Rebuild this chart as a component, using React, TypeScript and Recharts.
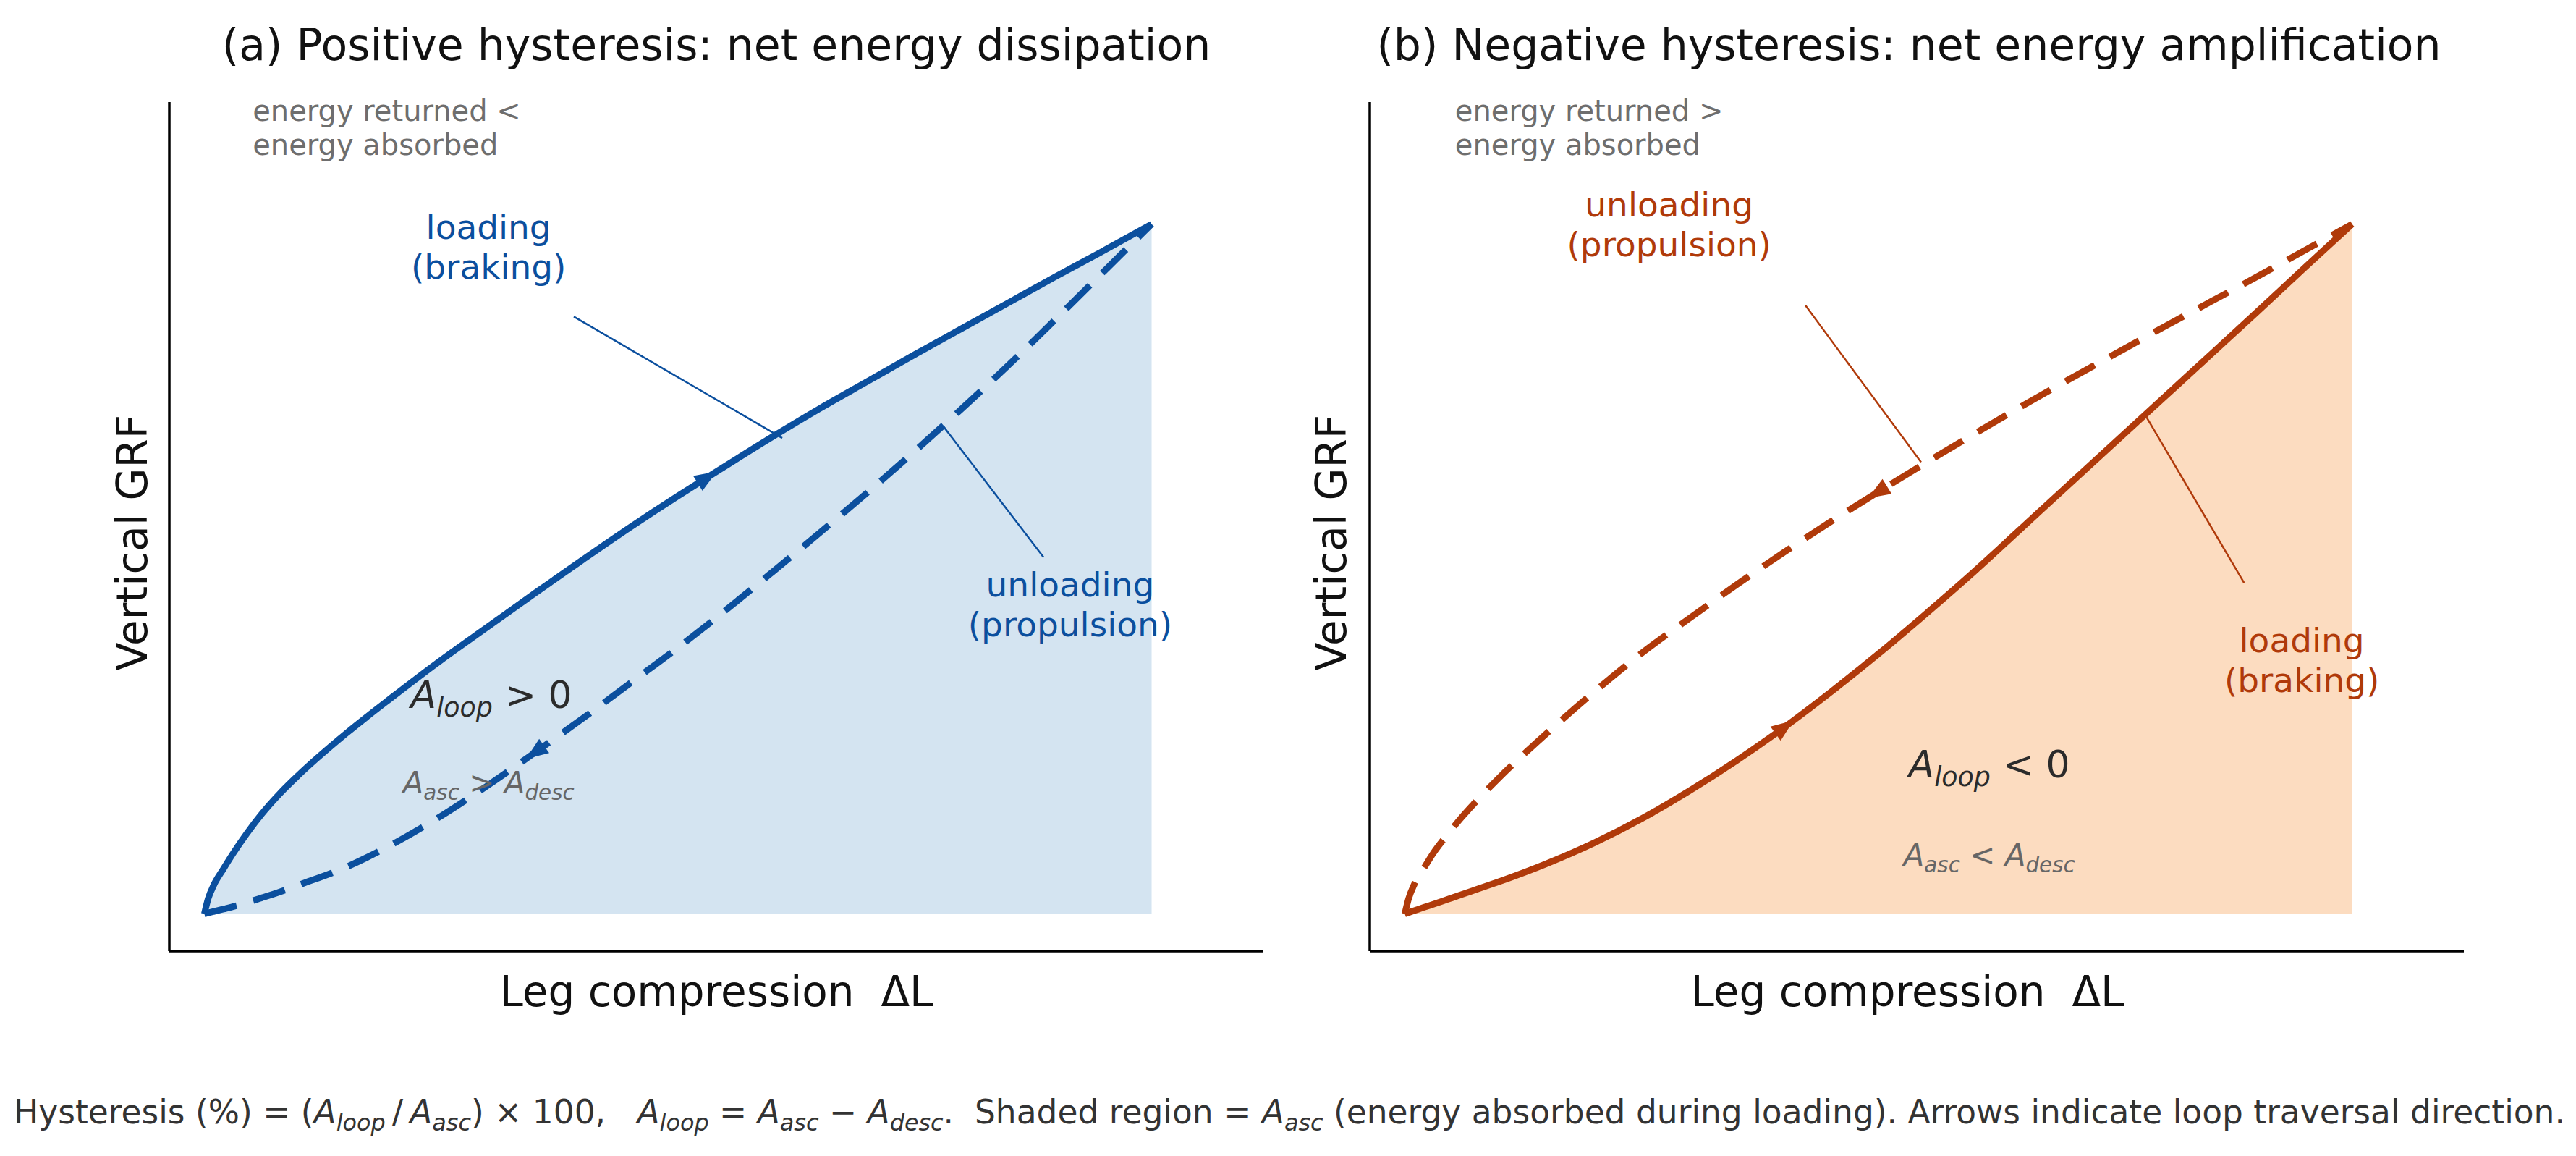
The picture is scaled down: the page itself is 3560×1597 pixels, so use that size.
import React from 'react';
import { ComposedChart, Area, Line, XAxis, YAxis, ReferenceLine, ReferenceDot } from 'recharts';

const FONT = '"DejaVu Sans", Verdana, sans-serif';

// Leg compression samples (normalised) and vertical GRF along each branch
const xGridA = [0, 0.004, 0.01, 0.02, 0.03, 0.045, 0.06, 0.08, 0.1, 0.15, 0.2, 0.25, 0.3, 0.35, 0.4, 0.45, 0.5, 0.53, 0.6, 0.65, 0.7, 0.75, 0.8, 0.85, 0.9, 0.95, 1];
const loadingA = [0, 0.022, 0.042, 0.065, 0.087, 0.117, 0.144, 0.175, 0.202, 0.262, 0.316, 0.368, 0.417, 0.466, 0.514, 0.561, 0.606, 0.632, 0.692, 0.733, 0.772, 0.811, 0.849, 0.887, 0.925, 0.962, 1];
const unloadingA = [0, 0.0014, 0.0035, 0.007, 0.0105, 0.0165, 0.023, 0.032, 0.042, 0.068, 0.102, 0.142, 0.187, 0.235, 0.284, 0.335, 0.386, 0.418, 0.496, 0.553, 0.611, 0.671, 0.733, 0.797, 0.864, 0.932, 1];

const xGridB = [0, 0.004, 0.01, 0.02, 0.03, 0.045, 0.06, 0.08, 0.1, 0.15, 0.2, 0.25, 0.3, 0.35, 0.4, 0.45, 0.5, 0.55, 0.6, 0.65, 0.7, 0.75, 0.8, 0.85, 0.9, 0.95, 1];
const loadingB = [0, 0.0019, 0.0047, 0.0094, 0.014, 0.021, 0.028, 0.0375, 0.047, 0.073, 0.103, 0.138, 0.178, 0.222, 0.27, 0.322, 0.377, 0.435, 0.495, 0.558, 0.621, 0.684, 0.747, 0.81, 0.873, 0.937, 1];
const unloadingB = [0, 0.022, 0.043, 0.066, 0.088, 0.115, 0.14, 0.17, 0.198, 0.262, 0.322, 0.378, 0.428, 0.477, 0.524, 0.569, 0.612, 0.654, 0.695, 0.735, 0.774, 0.812, 0.85, 0.887, 0.924, 0.962, 1];

const BLUE = '#0b4f9e';
const BLUE_FILL = '#d4e4f1';
const RED = '#b03a0a';
const RED_FILL = '#fcdcc0';

type Seg = [string, 'n' | 'i' | 's'];

// mathtext-like runs: normal, italic, italic subscript
const richSpans = (segs: Seg[], fs: number) => {
  let shift = 0;
  return segs.map(([t, k], i) => {
    const target = k === 's' ? fs * 0.22 : 0;
    const dy = target - shift;
    shift = target;
    return (
      <tspan key={i} dy={dy} fontStyle={k === 'n' ? 'normal' : 'italic'} fontSize={k === 's' ? fs * 0.7 : fs}>
        {t}
      </tspan>
    );
  });
};

// small filled triangle on a branch to show traversal direction
const arrowDot = (atX: number, reverse: boolean, color: string) => {
  let prev: { x: number; y: number } | null = null;
  return (p: any) => {
    const { cx, cy, index, payload, points } = p;
    const before = points && index > 0 ? points[index - 1] : prev;
    const after = points && index < points.length - 1 ? points[index + 1] : null;
    prev = { x: cx, y: cy };
    if (!payload || payload.x !== atX || !before) return <g key={`n${index}`} />;
    const tx = after ? after.x - before.x : cx - before.x;
    const ty = after ? after.y - before.y : cy - before.y;
    let ang = (Math.atan2(ty, tx) * 180) / Math.PI;
    if (reverse) ang += 180;
    return (
      <path key={`a${index}`} d="M 17 0 L -14 -12 L -14 12 Z" fill={color}
        transform={`translate(${cx},${cy}) rotate(${ang})`} />
    );
  };
};

const textBlock = (lines: string[], fs: number, color: string, anchor: 'middle' | 'start') => (p: any) => {
  const lh = fs * 1.17;
  const y0 = p.cy - ((lines.length - 1) * lh) / 2 + fs * 0.36;
  return (
    <text x={p.cx} y={y0} textAnchor={anchor} fill={color} fontSize={fs} fontFamily={FONT}>
      {lines.map((l, i) => (
        <tspan key={i} x={p.cx} dy={i === 0 ? 0 : lh}>{l}</tspan>
      ))}
    </text>
  );
};

const mathBlock = (segs: Seg[], fs: number, color: string) => (p: any) => (
  <text x={p.cx} y={p.cy + fs * 0.36} textAnchor="middle" fill={color} fontSize={fs} fontFamily={FONT} style={{ whiteSpace: 'pre' }}>
    {richSpans(segs, fs)}
  </text>
);

interface Note {
  x: number;
  y: number;
  render: (p: any) => React.ReactElement;
}

interface Leader {
  from: [number, number];
  to: [number, number];
}

interface PanelProps {
  xs: number[];
  loading: number[];
  unloading: number[];
  color: string;
  shade: string;
  loadArrowX: number;
  unloadArrowX: number;
  left: number;
  right: number;
  notes: Note[];
  leaders: Leader[];
}

const Panel: React.FC<PanelProps> = ({ xs, loading, unloading, color, shade, loadArrowX, unloadArrowX, left, right, notes, leaders }) => {
  const rows = xs.map((x, i) => ({ x, loading: loading[i], unloading: unloading[i] }));
  return (
    <ComposedChart width={1780} height={1597} data={rows} margin={{ top: 141, right, bottom: 282, left }}>
      <XAxis type="number" dataKey="x" domain={[-0.037, 1.118]} allowDataOverflow tick={false} tickLine={false}
        height={1} axisLine={{ stroke: '#000', strokeWidth: 3.5 }} />
      <YAxis type="number" domain={[-0.054, 1.177]} allowDataOverflow tick={false} tickLine={false}
        width={1} axisLine={{ stroke: '#000', strokeWidth: 3.5 }} />
      <Area type="monotone" dataKey="loading" baseValue={0} stroke="none" fill={shade} fillOpacity={1}
        isAnimationActive={false} />
      <Line type="monotone" dataKey="unloading" stroke={color} strokeWidth={9} strokeDasharray="46 24"
        dot={arrowDot(unloadArrowX, true, color)} activeDot={false} isAnimationActive={false} />
      <Line type="monotone" dataKey="loading" stroke={color} strokeWidth={9}
        dot={arrowDot(loadArrowX, false, color)} activeDot={false} isAnimationActive={false} />
      {leaders.map((l, i) => (
        <ReferenceLine key={`l${i}`} segment={[{ x: l.from[0], y: l.from[1] }, { x: l.to[0], y: l.to[1] }]}
          stroke={color} strokeWidth={2.5} />
      ))}
      {notes.map((n, i) => (
        <ReferenceDot key={`t${i}`} x={n.x} y={n.y} r={0} stroke="none" fill="none" shape={n.render} />
      ))}
    </ComposedChart>
  );
};

const notesA: Note[] = [
  { x: 0.051, y: 1.14, render: textBlock(['energy returned <', 'energy absorbed'], 40, '#6e6e6e', 'start') },
  { x: 0.3, y: 0.968, render: textBlock(['loading', '(braking)'], 47, BLUE, 'middle') },
  { x: 0.914, y: 0.449, render: textBlock(['unloading', '(propulsion)'], 47, BLUE, 'middle') },
  { x: 0.303, y: 0.318, render: mathBlock([['A', 'i'], ['loop', 's'], [' > 0', 'n']], 52, '#2b2b2b') },
  { x: 0.3, y: 0.191, render: mathBlock([['A', 'i'], ['asc', 's'], [' > ', 'n'], ['A', 'i'], ['desc', 's']], 42, '#666') },
];

const leadersA: Leader[] = [
  { from: [0.39, 0.866], to: [0.61, 0.69] },
  { from: [0.886, 0.517], to: [0.78, 0.707] },
];

const notesB: Note[] = [
  { x: 0.053, y: 1.14, render: textBlock(['energy returned >', 'energy absorbed'], 40, '#6e6e6e', 'start') },
  { x: 0.279, y: 1.0, render: textBlock(['unloading', '(propulsion)'], 47, RED, 'middle') },
  { x: 0.947, y: 0.368, render: textBlock(['loading', '(braking)'], 47, RED, 'middle') },
  { x: 0.617, y: 0.217, render: mathBlock([['A', 'i'], ['loop', 's'], [' < 0', 'n']], 52, '#2b2b2b') },
  { x: 0.617, y: 0.086, render: mathBlock([['A', 'i'], ['asc', 's'], [' < ', 'n'], ['A', 'i'], ['desc', 's']], 42, '#666') },
];

const leadersB: Leader[] = [
  { from: [0.423, 0.882], to: [0.545, 0.655] },
  { from: [0.886, 0.48], to: [0.783, 0.72] },
];

const footnote: Seg[] = [
  ['Hysteresis (%) = (', 'n'], ['A', 'i'], ['loop', 's'], ['\u2009/\u2009', 'n'], ['A', 'i'], ['asc', 's'], [') × 100,   ', 'n'],
  ['A', 'i'], ['loop', 's'], [' = ', 'n'], ['A', 'i'], ['asc', 's'], [' − ', 'n'], ['A', 'i'], ['desc', 's'],
  ['.  Shaded region = ', 'n'], ['A', 'i'], ['asc', 's'],
  [' (energy absorbed during loading). Arrows indicate loop traversal direction.', 'n'],
];

const App: React.FC = () => (
  <div style={{ position: 'absolute', left: 0, top: 0, width: 3560, height: 1597, background: '#fff', fontFamily: FONT }}>
    <div style={{ position: 'absolute', left: 0, top: 0 }}>
      <Panel xs={xGridA} loading={loadingA} unloading={unloadingA} color={BLUE} shade={BLUE_FILL}
        loadArrowX={0.53} unloadArrowX={0.35} left={233} right={34} notes={notesA} leaders={leadersA} />
    </div>
    <div style={{ position: 'absolute', left: 1780, top: 0 }}>
      <Panel xs={xGridB} loading={loadingB} unloading={unloadingB} color={RED} shade={RED_FILL}
        loadArrowX={0.4} unloadArrowX={0.5} left={112} right={155} notes={notesB} leaders={leadersB} />
    </div>
    <svg width={3560} height={1597} style={{ position: 'absolute', left: 0, top: 0, pointerEvents: 'none' }} fontFamily={FONT}>
      <text x={990} y={83} textAnchor="middle" fontSize={60} fill="#111">(a) Positive hysteresis: net energy dissipation</text>
      <text x={2638} y={83} textAnchor="middle" fontSize={60} fill="#111">(b) Negative hysteresis: net energy amplification</text>
      <text x={990} y={1390} textAnchor="middle" fontSize={58} fill="#111" style={{ whiteSpace: 'pre' }}>Leg compression  ΔL</text>
      <text x={2636} y={1390} textAnchor="middle" fontSize={58} fill="#111" style={{ whiteSpace: 'pre' }}>Leg compression  ΔL</text>
      <text x={203} y={750} textAnchor="middle" fontSize={58} fill="#111" transform="rotate(-90 203 750)">Vertical GRF</text>
      <text x={1860} y={750} textAnchor="middle" fontSize={58} fill="#111" transform="rotate(-90 1860 750)">Vertical GRF</text>
      <text x={1782} y={1552} textAnchor="middle" fontSize={45.5} fill="#333" style={{ whiteSpace: 'pre' }}>
        {richSpans(footnote, 45.5)}
      </text>
    </svg>
  </div>
);

export default App;
